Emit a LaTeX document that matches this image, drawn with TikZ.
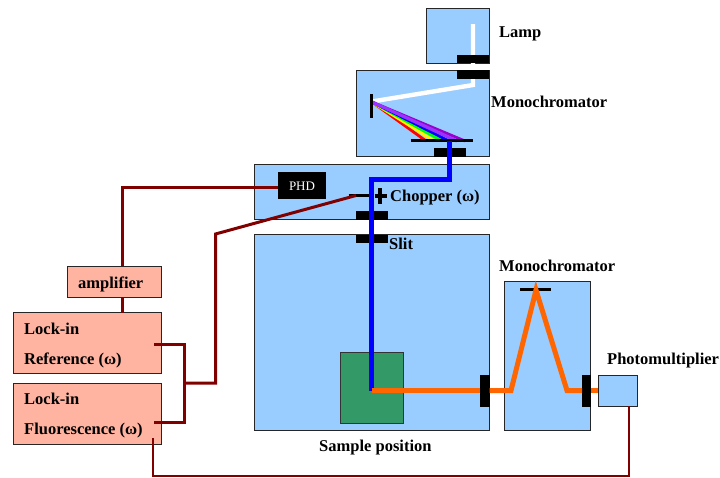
\documentclass[tikz,border=0pt]{standalone}
\usepackage{fontspec}
\setmainfont{Liberation Serif}
\definecolor{panel}{HTML}{99CCFF}
\definecolor{salmon}{HTML}{FFB3A1}
\definecolor{wire}{HTML}{800000}
\definecolor{beamorange}{HTML}{FF6600}
\definecolor{samplegreen}{HTML}{339966}
\definecolor{violetb}{HTML}{9933FF}
\definecolor{violetc}{HTML}{9900CC}
\tikzset{
  panelbox/.style={draw=black!85,line width=1pt,fill=panel},
  ampbox/.style={draw=black!85,line width=1pt,fill=salmon},
  blk/.style={fill=black,draw=none},
  lbl/.style={font=\bfseries\fontsize{16.5}{16.5}\selectfont,anchor=base west,inner sep=0pt,text=black},
  wireline/.style={draw=wire,line width=3pt,line join=miter},
  spec/.style={line width=2.8pt},
}
\begin{document}
\begin{tikzpicture}[x=1pt,y=-1pt]
\useasboundingbox (0,0) rectangle (720,477);
% boxes
\draw[panelbox] (426,8.5) rectangle (489,63);
\draw[panelbox] (356,70.5) rectangle (489,156.5);
\draw[panelbox] (254.5,164) rectangle (489.5,219);
\draw[panelbox] (254.5,234.5) rectangle (489.5,430);
\draw[panelbox] (504,281.5) rectangle (590.5,430);
\draw[panelbox] (598,375.5) rectangle (637.5,406);
\draw[ampbox] (67.5,266) rectangle (161,297);
\draw[ampbox] (13,312.5) rectangle (161,373.5);
\draw[ampbox] (13,383) rectangle (161,444);
\fill[samplegreen,draw=black!80,line width=0.8pt] (340.5,352) rectangle (403,423);
% chopper arm
\draw[black,line width=2.4pt] (348.5,195.5) -- (372,195.5);
% wires
\coordinate (phdw) at (326,187.5);
\draw[wireline] (phdw) -| (122,266);
\draw[wireline] (122,297) -- (122,312.5);
\draw[wireline] (154,344) -| (184,422) -- (154,422);
\draw[wireline] (184,383) -- (215.5,383) -- (215.5,234) -- (356,195.5);
\draw[wire,line width=2.4pt] (153,438) -- (153,476) -- (629,476) -- (629,406);
% white beam
\draw[white,line width=4.4pt,line join=miter] (473,24) -- (473,85) -- (372,101.5);
% spectrum
\draw[red,spec] (372,102) -- (426,141);
\draw[yellow,spec] (372,102) -- (434,141);
\draw[green,spec] (372,102) -- (442,141);
\draw[blue,spec] (372,102) -- (449,141);
\draw[violetc,spec] (372,102) -- (465,141);
\draw[violetb,line width=3.2pt] (372,102) -- (457,141);
% black parts
\fill[blk] (457,55) rectangle (489,63);
\fill[blk] (457,70) rectangle (489,79);
\fill[blk] (433.5,148) rectangle (466,157);
\fill[blk] (355.5,211) rectangle (388,219.5);
\fill[blk] (355.5,234.5) rectangle (388,243);
\fill[blk] (480,374.5) rectangle (489.5,407);
\fill[blk] (582,374.5) rectangle (590.5,407);
\draw[black,line width=3pt] (371.5,94) -- (371.5,117.5);
\draw[black,line width=3.2pt] (410.5,140.5) -- (473,140.5);
\draw[black,line width=3pt] (520,289.5) -- (551,289.5);
% beams
\draw[blue,line width=4.4pt,line join=miter] (449.5,141) -- (449.5,179.5) -- (371.5,179.5) -- (371.5,390.5);
\draw[beamorange,line width=5pt,line join=miter] (371.5,390.5) -- (480,390.5);
\draw[beamorange,line width=5pt,line join=miter] (489.5,390.5) -- (511,390.5) -- (536,290) -- (567,390.5) -- (582,390.5);
\draw[beamorange,line width=5pt] (590.5,390.5) -- (598,390.5);
% chopper
\draw[black,line width=3.2pt] (374.5,196) -- (387,196);
\draw[black,line width=3.2pt] (380,188) -- (380,204);
\node[blk,minimum width=48pt,minimum height=27pt,inner sep=0pt,anchor=north west] (phd) at (278,172) {};
\node[text=white,font=\fontsize{13}{13}\selectfont,inner sep=0pt] (phdt) at (302,186) {PHD};
% labels
\node[lbl] (l1) at (499,37) {Lamp};
\node[lbl] (l2) at (491,107) {Monochromator};
\node[lbl] (l3) at (390,201) {Chopper (ω)};
\node[lbl] (l4) at (389,249) {Slit};
\node[lbl] (l5) at (499,271) {Monochromator};
\node[lbl] (l6) at (607,364) {Photomultiplier};
\node[lbl] (l7) at (319,451) {Sample position};
\node[lbl] (l8) at (78,288) {amplifier};
\node[lbl] (l9) at (24,334) {Lock-in};
\node[lbl] (l10) at (24,364) {Reference (ω)};
\node[lbl] (l11) at (24,404) {Lock-in};
\node[lbl] (l12) at (24,434) {Fluorescence (ω)};
\end{tikzpicture}
\end{document}
